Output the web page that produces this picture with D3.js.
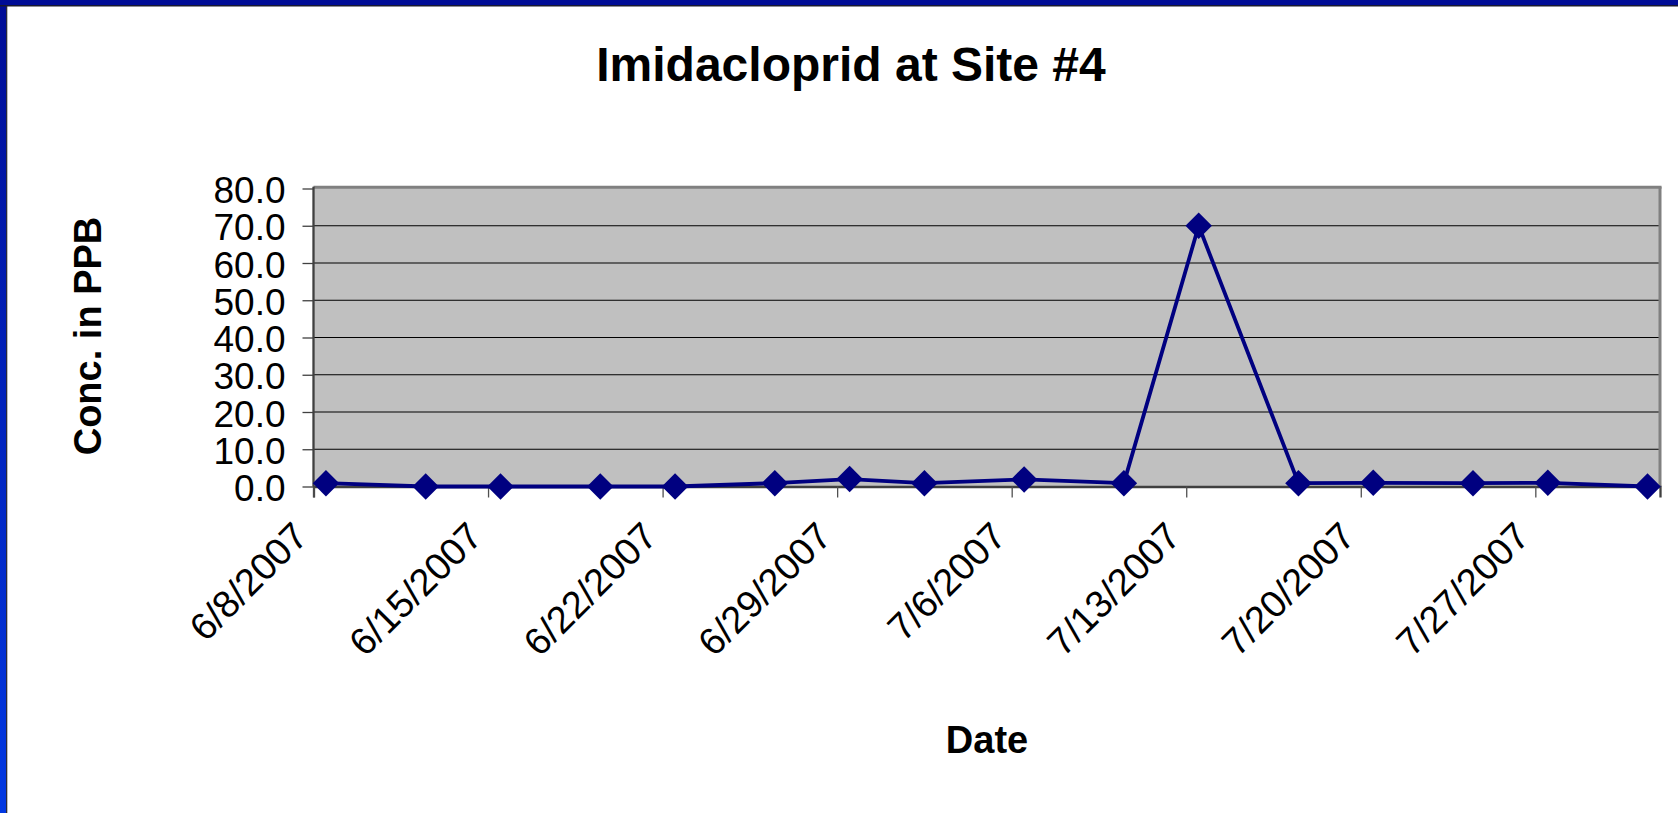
<!DOCTYPE html>
<html>
<head>
<meta charset="utf-8">
<script src="https://cdn.jsdelivr.net/npm/d3@7"></script>
<style>
  html, body { margin: 0; padding: 0; background: #fff; }
  svg { display: block; }
  text { font-family: "Liberation Sans", Arial, sans-serif; fill: #000; }
</style>
</head>
<body>
<svg id="chart" width="1678" height="813"></svg>
<script>
// ---- data ----
const title = "Imidacloprid at Site #4";
const xTitle = "Date";
const yTitle = "Conc. in PPB";
const sampleDates = ["2007-06-08","2007-06-12","2007-06-15","2007-06-19","2007-06-22","2007-06-26",
                     "2007-06-29","2007-07-02","2007-07-06","2007-07-10","2007-07-13","2007-07-17",
                     "2007-07-20","2007-07-24","2007-07-27","2007-07-31"];
const concValues = [0.9, 0.0, 0.0, 0.0, 0.0, 0.9, 2.0, 0.9, 1.9, 0.9, 70.0, 0.9, 1.0, 0.9, 1.0, 0.0];
const xTickLabels = ["6/8/2007","6/15/2007","6/22/2007","6/29/2007","7/6/2007","7/13/2007","7/20/2007","7/27/2007"];
const yTickValues = [0, 10, 20, 30, 40, 50, 60, 70, 80];
const xDomain = ["2007-06-08", "2007-08-01"];

// ---- layout ----
const W = 1678, H = 813;
const plot = { left: 313.5, right: 1660, top: 186.7, bottom: 486.5 };
const svg = d3.select("#chart");

const parseISO = s => { const [y,m,d] = s.split("-").map(Number); return new Date(Date.UTC(y, m-1, d)); };
const parseMDY = s => { const [m,d,y] = s.split("/").map(Number); return new Date(Date.UTC(y, m-1, d)); };

const x = d3.scaleUtc().domain(xDomain.map(parseISO)).range([plot.left, plot.right]);
const y = d3.scaleLinear().domain([0, 80]).range([plot.bottom, 188.5]);

// background
svg.append("rect").attr("width", W).attr("height", H).attr("fill", "#fff");

// frame (blue top and left)
const defs = svg.append("defs");
const grad = defs.append("linearGradient").attr("id", "leftGrad").attr("x1", 0).attr("y1", 0).attr("x2", 0).attr("y2", 1);
grad.append("stop").attr("offset", "0%").attr("stop-color", "#000c96");
grad.append("stop").attr("offset", "100%").attr("stop-color", "#0238e2");
svg.append("rect").attr("x", 0).attr("y", 0).attr("width", 6).attr("height", H).attr("fill", "url(#leftGrad)");
svg.append("rect").attr("x", 6).attr("y", 0).attr("width", 1.3).attr("height", H).attr("fill", "#2a2a3a");
svg.append("rect").attr("x", 0).attr("y", 0).attr("width", W).attr("height", 5).attr("fill", "#000c96");
svg.append("rect").attr("x", 0).attr("y", 5).attr("width", W).attr("height", 1.5).attr("fill", "#1a1a30");

// plot area
svg.append("rect")
  .attr("x", plot.left).attr("y", plot.top)
  .attr("width", plot.right - plot.left).attr("height", plot.bottom - plot.top)
  .attr("fill", "#c0c0c0");

// gridlines
svg.append("g").selectAll("line").data(yTickValues.filter(v => v > 0 && v < 80)).join("line")
  .attr("x1", plot.left).attr("x2", plot.right)
  .attr("y1", d => y(d)).attr("y2", d => y(d))
  .attr("stroke", "#000").attr("stroke-width", 1.2);

// top and right border (3D gray)
svg.append("line").attr("x1", plot.left).attr("x2", plot.right + 1.5)
  .attr("y1", plot.top + 0.5).attr("y2", plot.top + 0.5).attr("stroke", "#808080").attr("stroke-width", 3);
svg.append("line").attr("x1", plot.right).attr("x2", plot.right)
  .attr("y1", plot.top).attr("y2", plot.bottom).attr("stroke", "#808080").attr("stroke-width", 3);

// y axis
const yAxis = d3.axisLeft(y).tickValues(yTickValues).tickSize(11).tickPadding(0).tickFormat(d3.format(".1f"));
const gy = svg.append("g").attr("transform", `translate(${plot.left},0)`).call(yAxis);
gy.select(".domain").attr("d", `M0,${plot.top}V${plot.bottom}`)
  .attr("stroke", "#404040").attr("stroke-width", 2.3);
gy.selectAll(".tick line").attr("stroke", "#404040").attr("stroke-width", 1.3);
gy.selectAll(".tick text")
  .attr("x", -28).attr("dy", 14)
  .style("font-family", '"Liberation Sans", Arial, sans-serif')
  .style("font-size", "37px").attr("fill", "#000");

// x axis
const xTicks = xTickLabels.map(parseMDY);
const xAxis = d3.axisBottom(x).tickValues(xTicks).tickSize(11).tickFormat((d, i) => xTickLabels[i]);
const gx = svg.append("g").attr("transform", `translate(0,${plot.bottom})`).call(xAxis);
gx.select(".domain").attr("stroke", "#404040").attr("stroke-width", 2.3);
gx.selectAll(".tick line").attr("stroke", "#505050").attr("stroke-width", 1.3);
gx.selectAll(".tick text")
  .attr("text-anchor", "end")
  .attr("x", 0).attr("y", 0).attr("dy", 0)
  .attr("transform", "translate(-4,52) rotate(-45)")
  .style("font-family", '"Liberation Sans", Arial, sans-serif')
  .style("font-size", "38px").attr("fill", "#000");

// series
const pts = sampleDates.map((s, i) => ({ date: d3.utcHour.offset(parseISO(s), 12), value: concValues[i] }));
const line = d3.line().x(d => x(d.date)).y(d => y(d.value));
svg.append("path").datum(pts).attr("d", line)
  .attr("fill", "none").attr("stroke", "#000080").attr("stroke-width", 3.8).attr("stroke-linejoin", "round");

svg.append("g").selectAll("path").data(pts).join("path")
  .attr("transform", d => `translate(${x(d.date)},${y(d.value)}) rotate(45)`)
  .attr("d", d3.symbol().type(d3.symbolSquare).size(350))
  .attr("fill", "#000080");

// titles
svg.append("text").attr("x", 851).attr("y", 81).attr("text-anchor", "middle")
  .style("font-size", "48px").style("font-weight", "bold").text(title);
svg.append("text").attr("x", 987).attr("y", 753).attr("text-anchor", "middle")
  .style("font-size", "38px").style("font-weight", "bold").text(xTitle);
svg.append("text").attr("transform", `translate(101,336) rotate(-90)`).attr("text-anchor", "middle")
  .style("font-size", "38px").style("font-weight", "bold").text(yTitle);
</script>
</body>
</html>
